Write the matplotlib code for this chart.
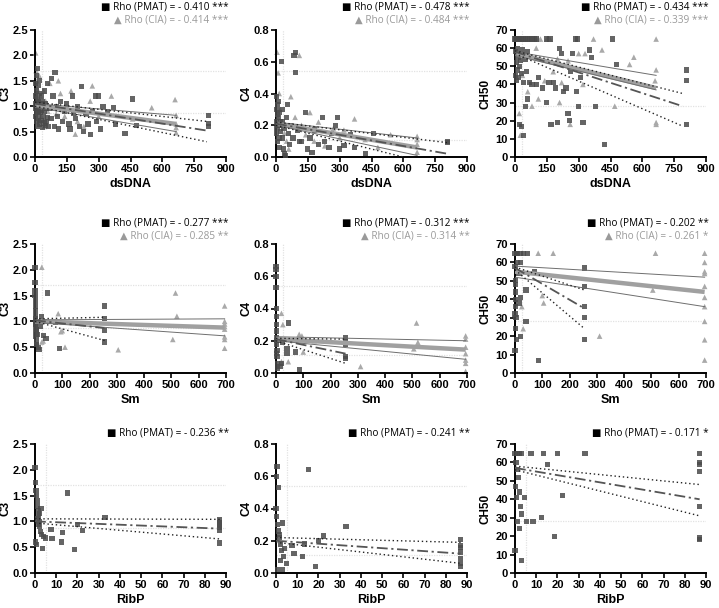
import matplotlib
matplotlib.use('Agg')
import numpy as np
from matplotlib import pyplot as plt

plt.rcParams['font.family'] = 'Liberation Sans'

# ---------------- row 1: dsDNA ----------------
c3_ds_pm_x = [1, 2, 3, 4, 5, 6, 7, 8, 9, 10, 11, 12, 13, 14, 15, 16, 17, 18, 19, 20, 22, 24, 26, 28, 30,
              32, 34, 36, 38, 40, 42, 44, 46, 48, 50, 52, 55, 58, 60, 65, 70, 75, 78, 85, 90, 94, 100,
              105, 110, 120, 130, 140, 150, 160, 165, 175, 180, 190, 200, 210, 220, 230, 240, 250,
              260, 270, 285, 290, 300, 310, 320, 340, 369, 380, 424, 460, 479, 817, 817, 817]
c3_ds_pm_y = [1.2, 0.95, 1.45, 0.8, 1.05, 1.6, 0.7, 1.3, 0.9, 1.15, 0.6, 1.74, 1.0, 0.85, 1.4, 0.75, 1.1,
              0.95, 1.25, 0.65, 1.5, 0.88, 1.05, 0.72, 1.2, 0.92, 0.58, 1.1, 0.8, 1.0, 0.67, 1.3, 0.9,
              0.62, 1.05, 0.7, 0.95, 1.45, 0.78, 0.6, 0.95, 0.75, 1.55, 1.2, 0.6, 1.66, 1.0, 0.8, 0.55,
              1.1, 0.7, 0.9, 1.05, 0.65, 0.55, 1.2, 0.85, 0.75, 1.0, 0.6, 1.39, 0.5, 0.85, 0.65, 0.45,
              0.9, 1.2, 0.7, 1.2, 0.55, 1.0, 0.9, 0.97, 0.65, 0.47, 1.14, 0.62, 0.82, 0.66, 0.6]
c3_ds_cia_x = [3, 5, 8, 10, 12, 15, 18, 20, 25, 30, 35, 40, 45, 50, 60, 70, 80, 100, 110, 120, 140,
               150, 170, 190, 200, 230, 260, 270, 300, 360, 460, 550, 660, 665, 665, 665, 665]
c3_ds_cia_y = [2.05, 1.7, 1.5, 1.35, 1.1, 0.9, 0.7, 1.6, 1.2, 0.8, 1.0, 1.3, 0.6, 1.1, 0.9, 1.45, 1.0,
               0.85, 1.5, 1.25, 0.8, 1.0, 1.3, 0.45, 0.7, 0.6, 1.1, 1.4, 0.8, 1.2, 0.75, 0.97, 1.13,
               0.82, 0.65, 0.58, 0.48]

c4_ds_pm_x = [1, 2, 3, 4, 5, 6, 7, 8, 9, 10, 12, 14, 15, 16, 18, 20, 22, 25, 28, 30, 32, 35, 38, 40,
              45, 50, 55, 60, 65, 70, 80, 85, 92, 92, 100, 110, 120, 140, 150, 160, 170, 180, 200, 220,
              230, 250, 260, 280, 290, 300, 320, 350, 370, 420, 460, 810, 810]
c4_ds_pm_y = [0.3, 0.22, 0.38, 0.15, 0.18, 0.27, 0.1, 0.33, 0.2, 0.35, 0.25, 0.12, 0.28, 0.06, 0.2,
              0.22, 0.16, 0.6, 0.3, 0.12, 0.22, 0.05, 0.18, 0.02, 0.01, 0.25, 0.33, 0.15, 0.08, 0.2,
              0.12, 0.64, 0.66, 0.53, 0.17, 0.1, 0.1, 0.28, 0.05, 0.12, 0.03, 0.17, 0.08, 0.25, 0.1,
              0.06, 0.15, 0.2, 0.25, 0.05, 0.07, 0.14, 0.06, 0.02, 0.15, 0.1, 0.09]
c4_ds_cia_x = [5, 10, 15, 20, 8, 30, 40, 50, 60, 70, 90, 110, 120, 140, 160, 180, 200, 230, 270, 300,
               320, 370, 420, 480, 540, 665, 665, 665, 665]
c4_ds_cia_y = [0.66, 0.53, 0.4, 0.3, 0.25, 0.2, 0.15, 0.1, 0.05, 0.38, 0.25, 0.64, 0.2, 0.14, 0.28,
               0.1, 0.22, 0.07, 0.18, 0.12, 0.17, 0.24, 0.11, 0.06, 0.14, 0.13, 0.11, 0.08, 0.03]

ch_ds_pm_x = [0, 5, 10, 15, 20, 30, 40, 50, 60, 70, 80, 90, 100, 150, 165, 285, 295, 460,
              2, 4, 6, 8, 10, 12, 14, 16, 18, 20, 25, 30, 35, 40, 45, 50, 55, 60,
              20, 30, 40, 50, 60, 70, 80, 100, 110, 130, 150, 160, 170, 180, 190, 200, 210, 220,
              230, 240, 250, 255, 260, 270, 290, 300, 310, 320, 350, 360, 380, 420, 480, 810, 810, 810]
ch_ds_pm_y = [65, 65, 65, 65, 65, 65, 65, 65, 65, 65, 65, 65, 65, 65, 65, 65, 65, 65,
              58, 45, 52, 42, 60, 48, 55, 44, 57, 50, 53, 46, 59, 41, 56, 54, 47, 58,
              18, 17, 12, 28, 32, 41, 40, 40, 44, 38, 30, 41, 18, 41, 38, 19, 60, 57,
              36, 38, 24, 20, 47, 57, 36, 28, 44, 19, 59, 55, 28, 7, 51, 48, 42, 18]
ch_ds_cia_x = [10, 25, 35, 45, 110, 120, 150, 165, 20, 25, 35, 60, 80, 100, 110, 140, 160, 180, 200,
               210, 220, 250, 260, 300, 320, 330, 370, 410, 470, 540, 560, 660, 665, 665, 665, 665]
ch_ds_cia_y = [65, 65, 65, 65, 65, 65, 65, 65, 24, 12, 45, 36, 28, 60, 32, 42, 65, 47, 54,
               30, 41, 53, 18, 57, 40, 57, 65, 59, 28, 51, 55, 42, 65, 48, 19, 18]

# ---------------- row 2: Sm ----------------
c3_sm_pm_x = [0, 0, 0, 0, 1, 1, 2, 2, 3, 3, 4, 4, 5, 5, 2, 1, 6, 8, 10, 12, 15, 20, 25, 30, 35, 40,
              45, 75, 90, 255, 255, 255, 255]
c3_sm_pm_y = [2.05, 1.75, 1.6, 1.5, 1.4, 1.3, 1.2, 1.1, 1.0, 0.9, 0.8, 0.7, 0.6, 0.55, 0.95, 1.05, 0.85,
              1.0, 0.75, 0.5, 0.45, 0.9, 1.1, 0.73, 1.0, 0.67, 1.55, 0.98, 0.48, 1.3, 1.05, 0.82, 0.6]
c3_sm_cia_x = [25, 20, 25, 30, 85, 95, 100, 110, 305, 505, 515, 520, 695, 695, 695, 695, 695, 695, 695, 695]
c3_sm_cia_y = [2.05, 1.0, 0.6, 0.62, 1.15, 0.8, 0.82, 0.5, 0.45, 0.65, 1.55, 1.1, 1.3, 1.0, 0.95, 0.9,
               0.85, 0.7, 0.65, 0.48]

c4_sm_pm_x = [0, 0, 0, 0, 1, 1, 2, 2, 3, 3, 4, 4, 5, 5, 1, 2, 10, 15, 20, 25, 40, 40, 45, 70, 85,
              255, 255, 255, 255, 255]
c4_sm_pm_y = [0.66, 0.64, 0.6, 0.53, 0.4, 0.35, 0.3, 0.26, 0.22, 0.18, 0.14, 0.1, 0.06, 0.03, 0.2,
              0.12, 0.2, 0.04, 0.06, 0.19, 0.12, 0.15, 0.31, 0.13, 0.02, 0.22, 0.2, 0.18, 0.1, 0.09]
c4_sm_cia_x = [20, 25, 20, 45, 85, 95, 100, 140, 310, 505, 515, 520, 695, 695, 695, 695, 695, 695, 695]
c4_sm_cia_y = [0.37, 0.3, 0.07, 0.07, 0.24, 0.23, 0.13, 0.2, 0.04, 0.15, 0.31, 0.19, 0.23, 0.21, 0.16,
               0.12, 0.08, 0.06, 0.01]

ch_sm_pm_x = [0, 5, 10, 20, 30, 45, 10, 20, 15, 20, 15, 20, 5, 0, 40, 40, 70, 85, 0, 1, 2, 3, 4,
              1, 2, 3, 0, 255, 255, 255, 255, 255]
ch_sm_pm_y = [65, 65, 65, 65, 65, 65, 60, 60, 54, 41, 38, 20, 18, 12, 45, 28, 55, 7, 58, 50, 44, 36,
              30, 24, 48, 40, 32, 57, 47, 36, 30, 18]
ch_sm_cia_x = [25, 30, 85, 100, 105, 140, 310, 505, 515, 695, 695, 695, 695, 695, 695, 695, 695, 695, 695]
ch_sm_cia_y = [36, 24, 65, 42, 38, 65, 20, 45, 65, 65, 60, 55, 54, 47, 41, 36, 28, 18, 7]

# ---------------- row 3: RibP (PMAT only) ----------------
c3_rp_x = [0, 0.3, 0.5, 0.8, 1, 1.2, 1.5, 1.8, 2, 2.3, 2.5, 3, 3.5, 4, 0.2, 0.6, 1.1, 1.6, 2.2, 2.8,
           5, 7.5, 8, 12.5, 13, 15.5, 18.5, 20, 22.5, 33, 87, 87, 87, 87, 87, 87]
c3_rp_y = [2.05, 1.75, 1.6, 1.5, 1.4, 1.3, 1.2, 1.1, 1.0, 0.9, 0.8, 0.75, 0.48, 0.7, 0.6, 0.55, 1.05,
           0.95, 1.15, 1.25, 0.68, 0.84, 0.67, 0.6, 0.78, 1.55, 0.45, 0.94, 0.82, 1.08, 1.03, 0.98,
           0.93, 0.88, 0.82, 0.58]
c4_rp_x = [0.5, 0.3, 1, 0, 0.4, 0.8, 1.2, 1.5, 2, 2.5, 3, 3.5, 4, 0.6, 1.8, 2.2, 3, 5, 7.5, 8.5,
           12.5, 13.5, 15.5, 18.5, 20, 22.5, 33, 87, 87, 87, 87, 87, 87, 87]
c4_rp_y = [0.66, 0.6, 0.53, 0.4, 0.35, 0.3, 0.26, 0.22, 0.18, 0.14, 0.31, 0.1, 0.15, 0.02, 0.24, 0.08,
           0.02, 0.06, 0.17, 0.12, 0.1, 0.18, 0.64, 0.04, 0.2, 0.23, 0.29, 0.21, 0.17, 0.16, 0.13,
           0.09, 0.06, 0.04]
ch_rp_x = [0, 1, 2, 3, 7.5, 13.5, 20, 33, 0.5, 1, 1.5, 2, 2.5, 3, 0.2, 0.8, 1.2, 2.2, 0, 15.5, 22.5,
           5.5, 8.5, 12.5, 18.5, 3, 4.5, 87, 87, 87, 87, 87, 87, 87]
ch_rp_y = [65, 65, 65, 65, 65, 65, 65, 65, 60, 56, 52, 44, 36, 32, 47, 41, 28, 24, 12, 59, 42,
           28, 28, 30, 20, 7, 41, 65, 60, 59, 55, 36, 19, 18]

# fitted lines: x ends, fit y, CI low y, CI high y
fits = {
    'c3_ds_pm': ([0, 810], [1.05, 0.52], [1.0, 0.3], [1.08, 0.7]),
    'c3_ds_cia': ([0, 665], [1.02, 0.65], [0.98, 0.5], [1.05, 0.82]),
    'c4_ds_pm': ([0, 810], [0.21, 0.02], [0.2, -0.07], [0.22, 0.09]),
    'c4_ds_cia': ([0, 665], [0.21, 0.06], [0.2, 0.01], [0.22, 0.12]),
    'ch_ds_pm': ([0, 790], [58, 28], [57, 17], [58.5, 35]),
    'ch_ds_cia': ([0, 665], [57, 38], [56, 37], [58, 45]),
    'c3_sm_pm': ([0, 255], [1.02, 0.87], [1.0, 0.63], [1.05, 1.08]),
    'c3_sm_cia': ([0, 695], [1.0, 0.88], [0.98, 0.72], [1.03, 1.05]),
    'c4_sm_pm': ([0, 255], [0.21, 0.12], [0.2, 0.06], [0.215, 0.21]),
    'c4_sm_cia': ([0, 695], [0.21, 0.145], [0.2, 0.085], [0.225, 0.2]),
    'ch_sm_pm': ([0, 255], [57, 35], [56, 24], [57.5, 45]),
    'ch_sm_cia': ([0, 695], [55, 44], [52, 36], [58, 52]),
    'c3_rp_pm': ([0, 87], [1.0, 0.86], [0.97, 0.66], [1.05, 1.04]),
    'c4_rp_pm': ([0, 87], [0.2, 0.12], [0.19, 0.06], [0.22, 0.19]),
    'ch_rp_pm': ([0, 87], [57, 40], [56, 31], [58, 48]),
}

PM_COL = '#4a4a4a'
CIA_COL = '#a9a9a9'
REF_COL = '#e2e2e2'


def draw_fit(ax, key, cia=False):
    xs, yf, ylo, yhi = fits[key]
    if cia:
        ax.plot(xs, yf, color='#a0a0a0', lw=3.2, solid_capstyle='butt', zorder=4)
        ax.plot(xs, ylo, color='#6e6e6e', lw=0.7, zorder=4)
        ax.plot(xs, yhi, color='#6e6e6e', lw=0.7, zorder=4)
    else:
        ax.plot(xs, yf, color='#555555', lw=1.3, dashes=(6, 2, 1.2, 2), zorder=5)
        ax.plot(xs, ylo, color='#222222', lw=1.0, ls=(0, (1, 2)), zorder=5)
        ax.plot(xs, yhi, color='#222222', lw=1.0, ls=(0, (1, 2)), zorder=5)


def yticks_fmt(ticks):
    if max(ticks) < 5:
        return ['%.1f' % t for t in ticks]
    return [str(int(t)) for t in ticks]


def style(ax, xlim, xticks, ylim, yticks, xlabel, ylabel, hlines, vline):
    for h in hlines:
        ax.axhline(h, color=REF_COL, lw=0.9, ls=(0, (1, 1)), zorder=0)
    ax.axvline(vline, color=REF_COL, lw=0.9, ls=(0, (1, 1)), zorder=0)
    ax.set_xlim(xlim)
    ax.set_ylim(ylim)
    ax.set_xticks(xticks)
    ax.set_yticks(yticks)
    ax.set_xticklabels([str(t) for t in xticks], fontsize=8, fontweight='bold')
    ax.set_yticklabels(yticks_fmt(yticks), fontsize=8, fontweight='bold')
    ax.spines['top'].set_visible(False)
    ax.spines['right'].set_visible(False)
    ax.spines['left'].set_linewidth(1.4)
    ax.spines['bottom'].set_linewidth(1.4)
    ax.tick_params(width=1.2, length=3.5, pad=1.5)
    ax.set_xlabel(xlabel, fontsize=9, fontweight='bold', labelpad=3)
    ax.set_ylabel(ylabel, fontsize=8.5, fontweight='bold')
    ax.yaxis.set_label_coords(-0.125, 0.5)


def legend(ax, lines, y0):
    fam = ['Open Sans', 'DejaVu Sans']
    for i, (txt, col) in enumerate(lines):
        ax.text(1.015, y0 - i * 0.1, txt, transform=ax.transAxes, ha='right', va='center',
                fontsize=7.2, color=col, family=fam)


fig = plt.figure(figsize=(7.19, 6.08), dpi=100)
W, H = 719.0, 608.0
cols = [(35, 226), (276, 467), (515, 706)]
rows = [(30, 157), (244, 373), (444, 573)]
axes = [[fig.add_axes([c[0] / W, 1 - r[1] / H, (c[1] - c[0]) / W, (r[1] - r[0]) / H])
         for c in cols] for r in rows]

panels = [
    (0, 0, c3_ds_pm_x, c3_ds_pm_y, c3_ds_cia_x, c3_ds_cia_y, 'c3_ds', '- 0.410 ***', '- 0.414 ***'),
    (0, 1, c4_ds_pm_x, c4_ds_pm_y, c4_ds_cia_x, c4_ds_cia_y, 'c4_ds', '- 0.478 ***', '- 0.484 ***'),
    (0, 2, ch_ds_pm_x, ch_ds_pm_y, ch_ds_cia_x, ch_ds_cia_y, 'ch_ds', '- 0.434 ***', '- 0.339 ***'),
    (1, 0, c3_sm_pm_x, c3_sm_pm_y, c3_sm_cia_x, c3_sm_cia_y, 'c3_sm', '- 0.277 ***', '- 0.285 **'),
    (1, 1, c4_sm_pm_x, c4_sm_pm_y, c4_sm_cia_x, c4_sm_cia_y, 'c4_sm', '- 0.312 ***', '- 0.314 **'),
    (1, 2, ch_sm_pm_x, ch_sm_pm_y, ch_sm_cia_x, ch_sm_cia_y, 'ch_sm', '- 0.202 **', '- 0.261 *'),
    (2, 0, c3_rp_x, c3_rp_y, None, None, 'c3_rp', '- 0.236 **', None),
    (2, 1, c4_rp_x, c4_rp_y, None, None, 'c4_rp', '- 0.241 **', None),
    (2, 2, ch_rp_x, ch_rp_y, None, None, 'ch_rp', '- 0.171 *', None),
]

ycfg = {0: ((0, 2.5), [0.0, 0.5, 1.0, 1.5, 2.0, 2.5], 'C3', [1.7, 0.87]),
        1: ((0, 0.8), [0.0, 0.2, 0.4, 0.6, 0.8], 'C4', [0.54, 0.11]),
        2: ((0, 70), [0, 10, 20, 30, 40, 50, 60, 70], 'CH50', [28])}
xcfg = {0: ((0, 900), [0, 150, 300, 450, 600, 750, 900], 'dsDNA', 35),
        1: ((0, 700), [0, 100, 200, 300, 400, 500, 600, 700], 'Sm', 25),
        2: ((0, 90), [0, 10, 20, 30, 40, 50, 60, 70, 80, 90], 'RibP', 5)}

for r, c, px, py, cx, cy, key, rho_pm, rho_cia in panels:
    ax = axes[r][c]
    ylim, yt, ylab, hl = ycfg[c]
    xlim, xt, xlab, vl = xcfg[r]
    style(ax, xlim, xt, ylim, yt, xlab, ylab, hl, vl)
    if cx is not None:
        ax.scatter(cx, cy, marker='^', s=16, color=CIA_COL, edgecolors='none', zorder=2, clip_on=False)
    ax.scatter(px, py, marker='s', s=14, color=PM_COL, alpha=0.85, edgecolors='none', zorder=3,
               clip_on=False)
    if cx is not None:
        draw_fit(ax, key + '_cia', cia=True)
        draw_fit(ax, key + '_pm')
        top = 1.18 if r == 0 else 1.165
        legend(ax, [('■ Rho (PMAT) = ' + rho_pm, 'black'),
                    ('▲ Rho (CIA) = ' + rho_cia, '#9a9a9a')], top)
    else:
        draw_fit(ax, key + '_pm')
        legend(ax, [('■ Rho (PMAT) = ' + rho_pm, 'black')], 1.085)

fig.savefig('out.png', dpi=100)
